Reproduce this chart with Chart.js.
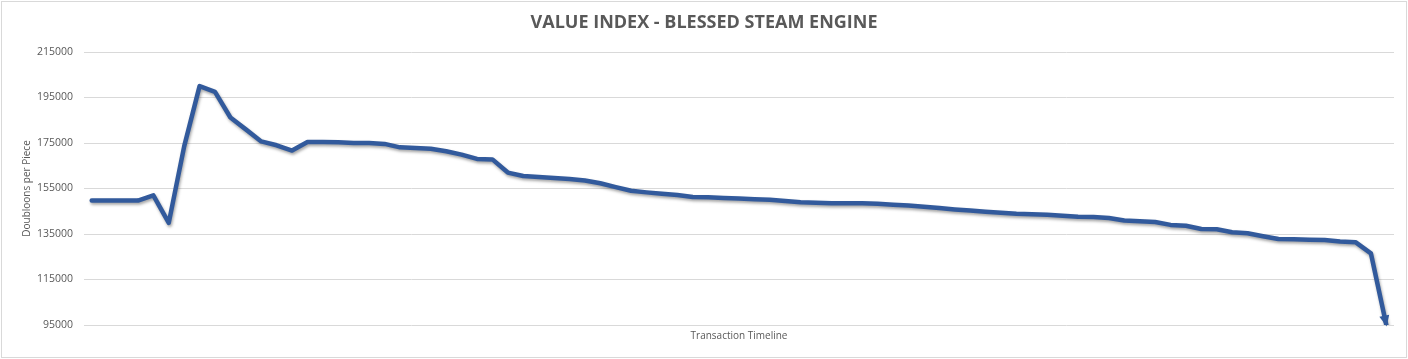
<!DOCTYPE html>
<html><head><meta charset="utf-8">
<script src="https://cdn.jsdelivr.net/npm/chart.js@4/dist/chart.umd.min.js"></script>
<style>html,body{margin:0;padding:0;background:#fff;overflow:hidden}#wrap{width:1408px;height:359px;position:relative}canvas{display:block}</style>
</head><body><div id="wrap"><canvas id="c" width="1408" height="359"></canvas></div>
<script>
const chartTitle = "VALUE INDEX - BLESSED STEAM ENGINE";
const xAxisTitle = "Transaction Timeline";
const yAxisTitle = "Doubloons per Piece";
const categories = [1,2,3,4,5,6,7,8,9,10,11,12,13,14,15,16,17,18,19,20,21,22,23,24,25,26,27,28,29,30,31,32,33,34,35,36,37,38,39,40,41,42,43,44,45,46,47,48,49,50,51,52,53,54,55,56,57,58,59,60,61,62,63,64,65,66,67,68,69,70,71,72,73,74,75,76,77,78,79,80,81,82,83,84,85];
const values = [
149700,149700,149700,149700,152000,139900,173500,200000,197500,186200,
181000,175700,174000,171700,175400,175400,175300,175000,175000,174600,
173100,172800,172500,171400,169900,168000,167800,162000,160500,160100,
159600,159200,158500,157300,155600,154000,153300,152700,152100,151300,
151100,150800,150600,150300,150100,149500,149000,148700,148500,148500,
148500,148300,147900,147500,147000,146400,145800,145300,144800,144300,
143900,143700,143500,143000,142600,142500,142000,140900,140600,140300,
139000,138600,137200,137100,135800,135300,134000,132800,132700,132500,
132400,131700,131400,126500,95000
];
const yTickValues = [95000,115000,135000,155000,175000,195000,215000];

const lineColor = '#325a9c';
const textColor = '#595959';

const framePlugin = {
  id: 'frame',
  beforeDraw(chart) {
    const ctx = chart.ctx;
    ctx.save();
    ctx.fillStyle = '#ffffff';
    ctx.fillRect(0, 0, chart.width, chart.height);
    ctx.strokeStyle = '#d9d9d9';
    ctx.lineWidth = 1;
    ctx.strokeRect(1.5, 1.5, chart.width - 3, chart.height - 3);
    ctx.restore();
  }
};
const shadowPlugin = {
  id: 'lineShadow',
  beforeDatasetDraw(chart) {
    const ctx = chart.ctx;
    ctx.save();
    ctx.shadowColor = 'rgba(0,0,0,0.35)';
    ctx.shadowBlur = 3;
    ctx.shadowOffsetX = 1;
    ctx.shadowOffsetY = 2;
  },
  afterDatasetDraw(chart) {
    chart.ctx.restore();
  }
};
const arrowPlugin = {
  id: 'endArrow',
  afterDatasetsDraw(chart) {
    const pts = chart.getDatasetMeta(0).data;
    if (pts.length < 2) return;
    const a = pts[pts.length - 2], b = pts[pts.length - 1];
    const ang = Math.atan2(b.y - a.y, b.x - a.x);
    const ctx = chart.ctx;
    const len = 11, half = 5;
    const tx = b.x + Math.cos(ang) * 1.5, ty = b.y + Math.sin(ang) * 1.5;
    ctx.save();
    ctx.fillStyle = lineColor;
    ctx.beginPath();
    ctx.moveTo(tx, ty);
    ctx.lineTo(tx - len * Math.cos(ang) + half * Math.sin(ang), ty - len * Math.sin(ang) - half * Math.cos(ang));
    ctx.lineTo(tx - len * Math.cos(ang) - half * Math.sin(ang), ty - len * Math.sin(ang) + half * Math.cos(ang));
    ctx.closePath();
    ctx.fill();
    ctx.restore();
  }
};

new Chart(document.getElementById('c'), {
  type: 'line',
  data: {
    labels: categories,
    datasets: [{
      data: values,
      borderColor: lineColor,
      borderWidth: 4.5,
      borderJoinStyle: 'round',
      borderCapStyle: 'round',
      pointRadius: 0,
      tension: 0,
      fill: false
    }]
  },
  options: {
    responsive: false,
    animation: false,
    devicePixelRatio: 1,
    layout: { padding: { left: 14, right: 14, top: 0, bottom: 0 } },
    plugins: {
      legend: { display: false },
      tooltip: { enabled: false },
      title: {
        display: true,
        text: chartTitle,
        color: textColor,
        font: { family: "'Open Sans', sans-serif", size: 18, weight: 'bold', lineHeight: 1.2 },
        padding: { top: 12, bottom: 18.4 }
      }
    },
    scales: {
      x: {
        type: 'category',
        offset: true,
        grid: { display: false },
        border: { display: false },
        ticks: { display: false },
        title: {
          display: true,
          text: xAxisTitle,
          color: textColor,
          font: { family: "'Open Sans', sans-serif", size: 10, lineHeight: 1.2 },
          padding: { top: 4, bottom: 17 }
        },
        afterFit(s) { s.height = 34; }
      },
      y: {
        min: 95000,
        max: 215000,
        afterBuildTicks(s) { s.ticks = yTickValues.map(v => ({ value: v })); },
        ticks: {
          color: textColor,
          font: { family: "'Open Sans', sans-serif", size: 10.5 },
          padding: 11,
          callback: v => String(v)
        },
        grid: { color: '#d9d9d9', lineWidth: 1, drawTicks: false },
        border: { display: false },
        title: {
          display: true,
          text: yAxisTitle,
          color: textColor,
          font: { family: "'Open Sans', sans-serif", size: 10, lineHeight: 1.2 },
          padding: { top: 7, bottom: 0 }
        },
        afterFit(s) { s.width = 70; }
      }
    }
  },
  plugins: [framePlugin, shadowPlugin, arrowPlugin]
});
</script>
</body></html>
